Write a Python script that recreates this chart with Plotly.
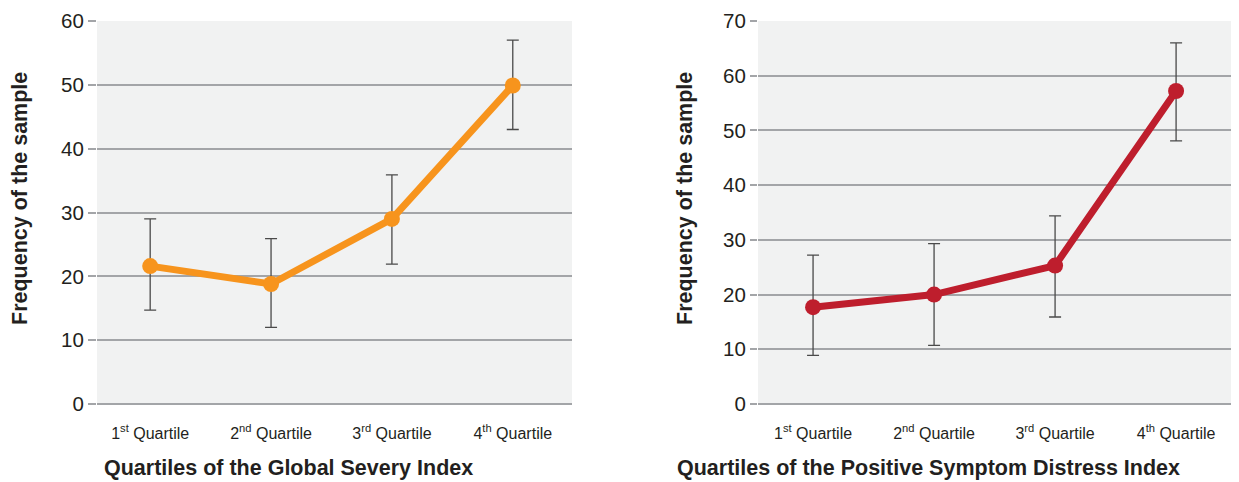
import plotly.graph_objects as go

categories = ["1<sup>st</sup> Quartile", "2<sup>nd</sup> Quartile", "3<sup>rd</sup> Quartile", "4<sup>th</sup> Quartile"]

gsi_values = [21.6, 18.8, 29.0, 49.9]
gsi_upper = [29.0, 25.9, 35.9, 57.0]
gsi_lower = [14.7, 12.0, 21.9, 43.0]

psdi_values = [17.7, 20.0, 25.3, 57.2]
psdi_upper = [27.2, 29.3, 34.4, 66.0]
psdi_lower = [8.9, 10.7, 15.9, 48.1]

W, H = 1239, 482
OX, OY = 8, 8  # page body offset of the figure
FONT = "Liberation Sans, Arial, sans-serif"
GRID = "#a3a5a8"
TEXT = "#231f20"


def px(x):
    return (x - OX) / W


def py(y):
    return 1 - (y - OY) / H


fig = go.Figure()

def add_series(vals, up, lo, color, xa, ya):
    fig.add_trace(go.Scatter(
        x=categories, y=vals, mode="lines+markers",
        line=dict(color=color, width=7),
        marker=dict(color=color, size=16),
        error_y=dict(type="data", symmetric=False,
                     array=[u - v for u, v in zip(up, vals)],
                     arrayminus=[v - l for v, l in zip(vals, lo)],
                     color="#4a4a4a", thickness=1.3, width=6),
        xaxis=xa, yaxis=ya, showlegend=False, hoverinfo="skip"))

add_series(gsi_values, gsi_upper, gsi_lower, "#f7941d", "x", "y")
add_series(psdi_values, psdi_upper, psdi_lower, "#be1e2d", "x2", "y2")

ydom = [py(404), py(21)]

def xax(d, rng, anchor):
    return dict(domain=d, range=rng, type="category", anchor=anchor,
                showgrid=False, zeroline=False, showline=False,
                ticks="outside", ticklen=15, tickcolor="rgba(0,0,0,0)",
                tickfont=dict(family=FONT, size=16, color=TEXT),
                automargin=False, fixedrange=True)

def yax(rng, anchor, tl):
    return dict(domain=ydom, range=rng, dtick=10, anchor=anchor,
                showgrid=True, gridcolor=GRID, gridwidth=1.5,
                zeroline=True, zerolinecolor=GRID, zerolinewidth=1.5,
                ticks="outside", ticklen=tl, tickcolor=GRID, tickwidth=1.5,
                tickfont=dict(family=FONT, size=20.5, color=TEXT),
                showline=False, automargin=False, fixedrange=True)

fig.update_layout(
    width=W, height=H,
    margin=dict(l=0, r=0, t=0, b=0, pad=0),
    paper_bgcolor="white",
    plot_bgcolor="#f1f2f2",
    xaxis=xax([px(97), px(572)], [-0.44, 3.49], "y"),
    yaxis=yax([0, 60], "x", 8),
    xaxis2=xax([px(758), 1.0], [-0.455, 3.586], "y2"),
    yaxis2=yax([0, 70], "x2", 7),
)

annos = [
    dict(text="<b>Quartiles of the Global Severy Index</b>", x=px(288), y=py(468)),
    dict(text="<b>Quartiles of the Positive Symptom Distress Index</b>", x=px(928), y=py(468)),
    dict(text="<b>Frequency of the sample</b>", x=px(20), y=py(199), textangle=-90),
    dict(text="<b>Frequency of the sample</b>", x=px(685), y=py(199), textangle=-90),
]
for a in annos:
    fig.add_annotation(xref="paper", yref="paper", showarrow=False,
                       xanchor="center", yanchor="middle",
                       font=dict(family=FONT, size=21.5, color=TEXT), **a)

fig.write_html("out.html")
